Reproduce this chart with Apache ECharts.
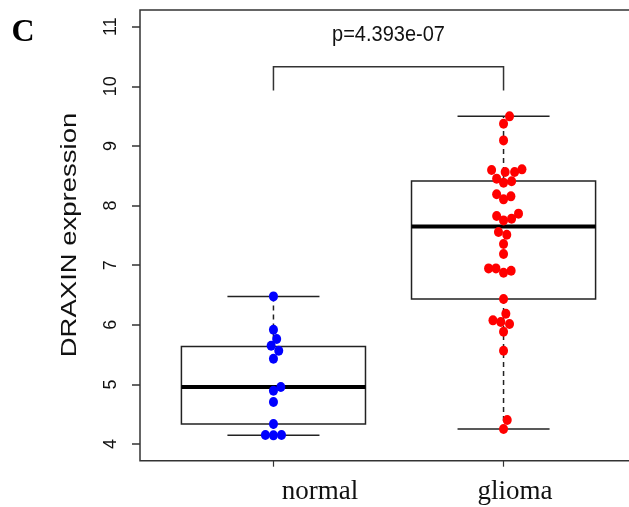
<!DOCTYPE html>
<html>
<head>
<meta charset="utf-8">
<script src="https://cdn.jsdelivr.net/npm/echarts@6/dist/echarts.min.js"></script>
<style>html,body{margin:0;padding:0;background:#fff;}#main{width:629px;height:507px;}</style>
</head>
<body>
<div id="main"></div>
<script>
// ---- data ----
const categories = ['normal', 'glioma'];
const yTicks = [4, 5, 6, 7, 8, 9, 10, 11];
// box stats: [whiskerLow, Q1, median, Q3, whiskerHigh]
const normalBox = [4.145, 4.335, 4.956, 5.637, 6.476];
const gliomaBox = [4.252, 6.432, 7.650, 8.412, 9.496];
const normalValues = [6.476, 5.917, 5.761, 5.649, 5.565, 5.431, 4.956, 4.894, 4.705, 4.335, 4.150, 4.145, 4.150];
const normalOffsets = [0, 0, 0.014, -0.010, 0.023, 0, 0.032, 0, 0, 0, -0.035, 0, 0.035];
const gliomaValues = [9.496, 9.373, 9.093, 8.597, 8.563, 8.563, 8.607, 8.451, 8.384, 8.406, 8.188, 8.104, 8.154,
  7.825, 7.751, 7.780, 7.864, 7.557, 7.511, 7.355, 7.187, 6.946, 6.946, 6.874, 6.907, 6.432, 6.186, 6.074,
  6.047, 6.013, 5.884, 5.565, 4.403, 4.252];
const gliomaOffsets = [0.026, 0, 0, -0.052, 0.007, 0.048, 0.080, -0.030, 0, 0.035, -0.030, 0, 0.032,
  -0.030, 0, 0.035, 0.065, -0.022, 0.014, 0, 0, -0.065, -0.033, 0, 0.033, 0, 0.010, -0.046,
  -0.012, 0.026, 0, 0, 0.016, 0];
const bracket = [1, 2, 9.93, 10.33];
const pLabel = 'p=4.393e-07';
const pLabelY = 10.87;
const yName = 'DRAXIN expression';
const panelLetter = 'C';

// ---- build ----
const boxData = [[1].concat(normalBox), [2].concat(gliomaBox)];
const normalPts = normalValues.map((v, i) => [1 + normalOffsets[i], v]);
const gliomaPts = gliomaValues.map((v, i) => [2 + gliomaOffsets[i], v]);

const chart = echarts.init(document.getElementById('main'), null, {renderer: 'canvas'});
const LINE = '#222';

function renderBox(params, api) {
  const x = api.value(0);
  const lo = api.value(1), q1 = api.value(2), med = api.value(3), q3 = api.value(4), hi = api.value(5);
  const hw = 0.4, cw = 0.2;
  const pLT = api.coord([x - hw, q3]);
  const pRB = api.coord([x + hw, q1]);
  const c = api.coord([x, med]);
  const pHi = api.coord([x, hi]);
  const pLo = api.coord([x, lo]);
  const pQ3 = api.coord([x, q3]);
  const pQ1 = api.coord([x, q1]);
  const capL = api.coord([x - cw, 0])[0], capR = api.coord([x + cw, 0])[0];
  const st = {stroke: LINE, lineWidth: 1.5, fill: null};
  const dash = {stroke: LINE, lineWidth: 1.5, lineDash: [5, 4]};
  return {
    type: 'group',
    children: [
      {type: 'line', shape: {x1: pQ3[0], y1: pQ3[1], x2: pHi[0], y2: pHi[1]}, style: dash},
      {type: 'line', shape: {x1: pQ1[0], y1: pQ1[1], x2: pLo[0], y2: pLo[1]}, style: dash},
      {type: 'line', shape: {x1: capL, y1: pHi[1], x2: capR, y2: pHi[1]}, style: st},
      {type: 'line', shape: {x1: capL, y1: pLo[1], x2: capR, y2: pLo[1]}, style: st},
      {type: 'rect', shape: {x: pLT[0], y: pLT[1], width: pRB[0] - pLT[0], height: pRB[1] - pLT[1]}, style: {stroke: LINE, lineWidth: 1.5, fill: '#fff'}},
      {type: 'line', shape: {x1: pLT[0], y1: c[1], x2: pRB[0], y2: c[1]}, style: {stroke: '#000', lineWidth: 4}}
    ]
  };
}

function renderBracket(params, api) {
  const a = api.coord([api.value(0), api.value(2)]);
  const b = api.coord([api.value(1), api.value(3)]);
  const top = b[1];
  const ybot = a[1];
  const mid = api.coord([(api.value(0) + api.value(1)) / 2, pLabelY]);
  return {
    type: 'group',
    children: [
      {type: 'polyline', shape: {points: [[a[0], ybot], [a[0], top], [b[0], top], [b[0], ybot]]}, style: {stroke: '#333', lineWidth: 1.5, fill: null}},
      {type: 'text', x: mid[0], y: mid[1], scaleY: 1.1, style: {text: pLabel, font: '20px "Liberation Sans", Arial, sans-serif', fill: '#111', align: 'center', verticalAlign: 'middle'}}
    ]
  };
}

const option = {
  backgroundColor: '#fff',
  animation: false,
  grid: {left: 140, top: 10, width: 497, height: 450.7, show: true, borderColor: '#333', borderWidth: 1.5, backgroundColor: 'transparent', outerBoundsMode: 'none', containLabel: false},
  xAxis: {
    type: 'value', min: 0.42, max: 2.58,
    axisLine: {show: false},
    splitLine: {show: false},
    axisTick: {show: true, customValues: [1, 2], length: 6, lineStyle: {color: '#333', width: 1.2}},
    axisLabel: {show: false}
  },
  yAxis: {
    type: 'value', min: 3.72, max: 11.28,
    axisLine: {show: false},
    splitLine: {show: false},
    axisTick: {show: true, customValues: yTicks, length: 8, lineStyle: {color: '#333', width: 1.5}},
    axisLabel: {show: true, customValues: yTicks, rotate: 90, margin: 20, fontSize: 18, color: '#111', fontFamily: '"Liberation Sans", Arial, sans-serif'}
  },
  series: [
    {type: 'custom', renderItem: renderBox, data: boxData, z: 1, silent: true},
    {type: 'custom', renderItem: renderBracket, data: [bracket], z: 1, silent: true, clip: false},
    {type: 'scatter', data: normalPts, symbol: 'circle', symbolSize: [9, 10], itemStyle: {color: '#0000ff', opacity: 1}, z: 3},
    {type: 'scatter', data: gliomaPts, symbol: 'circle', symbolSize: [9, 10], itemStyle: {color: '#ff0000', opacity: 1}, z: 3}
  ],
  graphic: [
    {type: 'text', x: 23, y: 33, style: {text: panelLetter, font: 'bold 32px "Liberation Serif", "Times New Roman", serif', fill: '#000', textAlign: 'center', textVerticalAlign: 'middle'}},
    {type: 'text', x: 70, y: 235, rotation: Math.PI / 2, scaleX: 1.25, style: {text: yName, font: '22px "Liberation Sans", Arial, sans-serif', fill: '#111', textAlign: 'center', textVerticalAlign: 'middle'}},
    {type: 'text', x: 320, y: 492, style: {text: categories[0], font: '27px "Liberation Serif", "Times New Roman", serif', fill: '#111', textAlign: 'center', textVerticalAlign: 'middle'}},
    {type: 'text', x: 515, y: 492, style: {text: categories[1], font: '27px "Liberation Serif", "Times New Roman", serif', fill: '#111', textAlign: 'center', textVerticalAlign: 'middle'}}
  ]
};
chart.setOption(option);
</script>
</body>
</html>
